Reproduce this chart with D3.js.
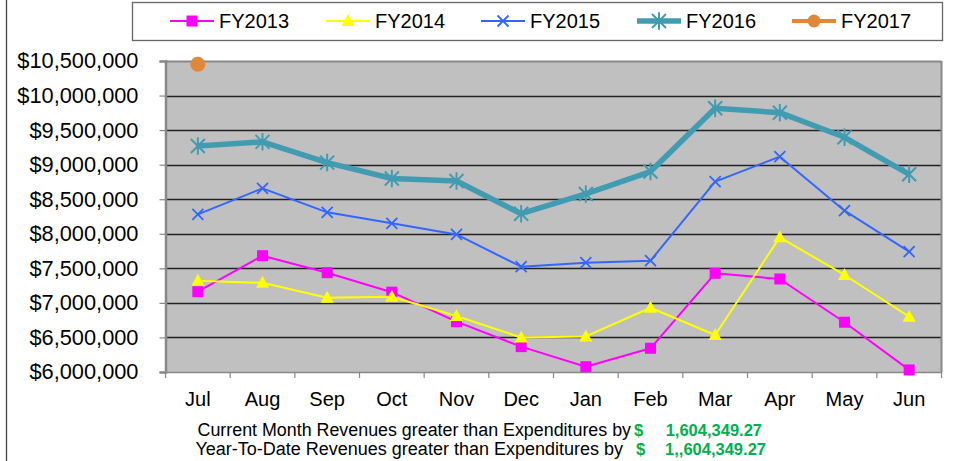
<!DOCTYPE html>
<html><head><meta charset="utf-8">
<script src="https://cdn.jsdelivr.net/npm/d3@7"></script>
<style>html,body{margin:0;padding:0;background:#fff;}svg{display:block;font-family:"Liberation Sans",Arial,sans-serif;}</style>
</head><body>
<svg id="chart" width="954" height="461"></svg>
<script>
const months = ["Jul","Aug","Sep","Oct","Nov","Dec","Jan","Feb","Mar","Apr","May","Jun"];
const fy2013 = [7162000,7683000,7437000,7155000,6728000,6367000,6077000,6343000,7428000,7346000,6720000,6030000];
const fy2014 = [7320000,7290000,7075000,7090000,6810000,6500000,6515000,6930000,6536000,7949000,7404000,6800000];
const fy2015 = [8280000,8657000,8310000,8151000,7990000,7524000,7582000,7611000,8754000,9116000,8334000,7741000];
const fy2016 = [9270000,9330000,9030000,8800000,8764000,8290000,8576000,8900000,9816000,9752000,9396000,8861000];
const fy2017 = [10452000];
const yTicks = [6000000,6500000,7000000,7500000,8000000,8500000,9000000,9500000,10000000,10500000];
const seriesNames = ["FY2013","FY2014","FY2015","FY2016","FY2017"];
const noteLabels = ["Current Month Revenues greater than Expenditures by","Year-To-Date Revenues greater than Expenditures by"];
const noteValues = ["1,604,349.27","1,,604,349.27"];

const series = [
  {name:seriesNames[0], values:fy2013, color:"#ff00ff", width:2, marker:"square"},
  {name:seriesNames[1], values:fy2014, color:"#ffff00", width:2, marker:"triangle"},
  {name:seriesNames[2], values:fy2015, color:"#3366ff", width:2, marker:"x"},
  {name:seriesNames[3], values:fy2016, color:"#419cb2", width:5.5, marker:"star"},
  {name:seriesNames[4], values:fy2017, color:"#e0873a", width:4, marker:"circle"}
];

const svg = d3.select("#chart");
const L = 165.5, R = 941.5, T = 61, B = 372;
const x = d3.scaleBand().domain(months).range([L, R]);
const y = d3.scaleLinear().domain([6000000, 10500000]).range([B, T]);

// outer left border
svg.append("line").attr("x1",6.5).attr("x2",6.5).attr("y1",0).attr("y2",461).attr("stroke","#444").attr("stroke-width",1.3);

// plot background
svg.append("rect").attr("x",L).attr("y",T).attr("width",R-L).attr("height",B-T).attr("fill","#c0c0c0");

// gridlines
svg.append("g").selectAll("line").data(yTicks.filter(d=>d>6000000 && d<10500000)).join("line")
  .attr("x1",L).attr("x2",R).attr("y1",d=>Math.round(y(d))+0.5).attr("y2",d=>Math.round(y(d))+0.5)
  .attr("stroke","#222").attr("stroke-width",1.3);

// plot border top/right
svg.append("line").attr("x1",L).attr("x2",R).attr("y1",T+0.5).attr("y2",T+0.5).attr("stroke","#888").attr("stroke-width",2);
svg.append("line").attr("x1",R).attr("x2",R).attr("y1",T).attr("y2",B).attr("stroke","#888").attr("stroke-width",2);

// y axis
const yAxis = d3.axisLeft(y).tickValues(yTicks).tickSize(6).tickPadding(21)
  .tickFormat(d=>"$"+d3.format(",")(d));
const gy = svg.append("g").attr("transform",`translate(${L},0)`).call(yAxis);
gy.select(".domain").attr("stroke","#888").attr("stroke-width",2.5);
gy.selectAll(".tick line").attr("stroke","#888").attr("stroke-width",1.2);
gy.selectAll("text").attr("font-size",21.8).attr("fill","#000").attr("font-family","Liberation Sans, Arial, sans-serif");

// x axis
const xAxis = d3.axisBottom(x).tickSize(0).tickPadding(20);
const gx = svg.append("g").attr("transform",`translate(0,${B})`).call(xAxis);
gx.select(".domain").attr("stroke","#888").attr("stroke-width",1.5);
gx.selectAll("text").attr("font-size",20).attr("fill","#000").attr("font-family","Liberation Sans, Arial, sans-serif");
// boundary ticks
const bounds = months.map(m=>x(m)).concat([R]);
gx.append("g").selectAll("line").data(bounds).join("line")
  .attr("x1",d=>d).attr("x2",d=>d).attr("y1",0).attr("y2",6).attr("stroke","#888").attr("stroke-width",1.2);

const cx = (i)=> x(months[i]) + x.bandwidth()/2;

function drawMarker(g, type, color, px, py, s){
  if(type==="square"){
    g.append("rect").attr("x",px-5.5).attr("y",py-5.5).attr("width",11).attr("height",11).attr("fill",color);
  } else if(type==="triangle"){
    g.append("path").attr("d",`M${px},${py-7}L${px+6.5},${py+5}L${px-6.5},${py+5}Z`).attr("fill",color);
  } else if(type==="x"){
    const r = s||5.5;
    g.append("path").attr("d",`M${px-r},${py-r}L${px+r},${py+r}M${px-r},${py+r}L${px+r},${py-r}`).attr("stroke",color).attr("stroke-width",1.8).attr("fill","none");
  } else if(type==="star"){
    const r = s||7;
    g.append("path").attr("d",`M${px-r},${py-r}L${px+r},${py+r}M${px-r},${py+r}L${px+r},${py-r}M${px},${py-r*1.25}L${px},${py+r*1.25}`).attr("stroke",color).attr("stroke-width",2).attr("fill","none");
  } else if(type==="circle"){
    g.append("circle").attr("cx",px).attr("cy",py).attr("r",s||7.5).attr("fill",color);
  }
}

const line = d3.line().x((d,i)=>cx(i)).y(d=>y(d));
series.forEach(s=>{
  const g = svg.append("g");
  if(s.values.length>1){
    g.append("path").datum(s.values).attr("d",line).attr("fill","none")
      .attr("stroke",s.color).attr("stroke-width",s.width).attr("stroke-linejoin","round");
  }
  s.values.forEach((v,i)=>drawMarker(g, s.marker, s.color, cx(i), y(v)));
});

// legend
svg.append("rect").attr("x",132.5).attr("y",2.5).attr("width",810).attr("height",38).attr("fill","#fff").attr("stroke","#666").attr("stroke-width",1.3);
const legX = [170,326,481,637,792];
series.forEach((s,i)=>{
  const g = svg.append("g");
  const x0 = legX[i], x1 = x0+44, ym = 21;
  g.append("line").attr("x1",x0).attr("x2",x1).attr("y1",ym).attr("y2",ym).attr("stroke",s.color).attr("stroke-width",s.width);
  drawMarker(g, s.marker, s.color, (x0+x1)/2, ym, s.marker==="circle"?6.5:null);
  g.append("text").attr("x",x1+5).attr("y",ym+7).attr("font-size",20).attr("fill","#000").text(s.name);
});

// notes
const noteY = [436,455];
const labelEnd = [631,623];
const dollarX = [634,636];
const valEnd = [762,766];
const noteSize = [17.85,18];
noteLabels.forEach((t,i)=>{
  svg.append("text").attr("x",labelEnd[i]).attr("y",noteY[i]).attr("text-anchor","end").attr("font-size",noteSize[i]).attr("fill","#000").text(t);
  svg.append("text").attr("x",dollarX[i]).attr("y",noteY[i]).attr("font-size",16.5).attr("font-weight","bold").attr("fill","#00b050").text("$");
  svg.append("text").attr("x",valEnd[i]).attr("y",noteY[i]).attr("text-anchor","end").attr("font-size",16.5).attr("font-weight","bold").attr("fill","#00b050").text(noteValues[i]);
});
</script>
</body></html>
